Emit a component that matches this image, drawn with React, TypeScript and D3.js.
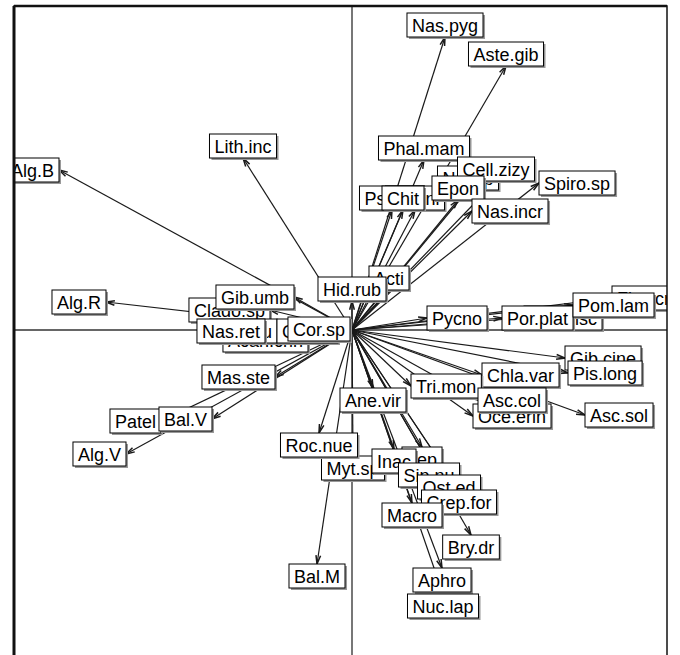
import React, { useEffect, useRef } from 'react';
import * as d3 from 'd3';

const width = 680;
const height = 655;

// species labels, in the order they are drawn (later ones sit on top)
const species = [
  'Nas.pyg', 'Aste.gib', 'Phal.mam', 'Psa.sp', 'Lep.ni', 'Chit', 'Nei.sp', 'Cell.zizy', 'Epon',
  'Spiro.sp', 'Nas.incr', 'Acti', 'Hid.rub', 'Lith.inc', 'Alg.B', 'Alg.R', 'Clado.sp', 'Gib.umb',
  'Acan.crin', 'Halo.tu', 'Cal.sp', 'Nas.ret', 'Cor.sp', 'Mas.ste', 'Patel', 'Bal.V', 'Alg.V',
  'Myt.sp', 'Roc.nue', 'Bal.M', 'Ane.vir', 'Lep', 'Inac', 'Sip.nu', 'Ost.ed', 'Crep.for', 'Macro',
  'Bry.dr', 'Aphro', 'Nuc.lap', 'Pycno', 'Bus.disc', 'Por.plat', 'Fiss.cr', 'Pom.lam', 'Gib.cine',
  'Pis.long', 'Chla.var', 'Tri.mon', 'Oce.erin', 'Asc.col', 'Asc.sol',
];

// loadings on axis 1
const axis1 = [
  0.93, 1.54, 0.72, 0.40, 0.63, 0.51, 1.16, 1.44, 1.06,
  1.87, 1.20, 0.37, 0.0, -1.09, -2.93, -2.46, -0.82, -0.58,
  -0.44, -0.75, -0.14, -0.87, -0.02, -0.77, -1.91, -1.40, -2.26,
  0.01, -0.33, -0.35, 0.21, 0.70, 0.42, 0.77, 0.97, 1.07, 0.60,
  1.19, 0.90, 0.91, 0.75, 1.72, 1.50, 2.60, 2.21, 2.13,
  2.16, 1.30, 0.59, 1.21, 1.26, 2.33,
];

// loadings on axis 2
const axis2 = [
  2.93, 2.64, 1.70, 1.20, 1.20, 1.20, 1.40, 1.49, 1.30,
  1.47, 1.19, 0.40, 0.29, 1.72, 1.60, 0.28, 0.20, 0.33,
  -0.10, -0.01, -0.01, -0.01, 0.01, -0.47, -0.91, -0.89, -1.24,
  -1.26, -1.03, -2.34, -0.58, -1.17, -1.19, -1.33, -1.45, -1.60, -1.73,
  -2.05, -2.38, -2.64, 0.12, 0.12, 0.12, 0.32, 0.25, -0.28,
  -0.43, -0.45, -0.56, -0.86, -0.70, -0.85,
];

const App = () => {
  const ref = useRef<SVGSVGElement>(null);

  useEffect(() => {
    const svg = d3.select(ref.current);
    svg.selectAll('*').remove();

    const x = d3.scaleLinear().domain([-3.38, 3.15]).range([14, 667]);
    const y = d3.scaleLinear().domain([3.24, -3.5]).range([6, 680]);
    const ox = x(0);
    const oy = y(0);

    svg.append('rect').attr('width', width).attr('height', height).attr('fill', '#fff');

    svg.append('clipPath').attr('id', 'plotclip')
      .append('rect')
      .attr('x', x(-3.38)).attr('y', y(3.24))
      .attr('width', x(3.15) - x(-3.38)).attr('height', y(-3.5) - y(3.24));

    const g = svg.append('g').attr('clip-path', 'url(#plotclip)');

    // axes through the origin
    g.append('line')
      .attr('x1', x(-3.38)).attr('x2', x(3.15)).attr('y1', oy).attr('y2', oy)
      .attr('stroke', '#333').attr('stroke-width', 1.5);
    g.append('line')
      .attr('x1', ox).attr('x2', ox).attr('y1', y(3.24)).attr('y2', y(-3.5))
      .attr('stroke', '#777').attr('stroke-width', 2);

    const pts = species.map((name, i) => ({ name, px: x(axis1[i]), py: y(axis2[i]), a: axis1[i], b: axis2[i] }));

    // arrows
    const headLen = 9;
    const headAng = (15 * Math.PI) / 180;
    pts.forEach((p) => {
      g.append('line')
        .attr('x1', ox).attr('y1', oy).attr('x2', p.px).attr('y2', p.py)
        .attr('stroke', '#1a1a1a').attr('stroke-width', 1.2);
      const ang = Math.atan2(p.py - oy, p.px - ox);
      const path = d3.path();
      path.moveTo(p.px - headLen * Math.cos(ang - headAng), p.py - headLen * Math.sin(ang - headAng));
      path.lineTo(p.px, p.py);
      path.lineTo(p.px - headLen * Math.cos(ang + headAng), p.py - headLen * Math.sin(ang + headAng));
      g.append('path').attr('d', path.toString())
        .attr('fill', 'none').attr('stroke', '#1a1a1a').attr('stroke-width', 1.5);
    });

    // labels in boxes, placed outward from the arrow tip
    const boxH = 24;
    const pad = 5;
    pts.forEach((p) => {
      const lab = g.append('g');
      const shadow = lab.append('rect').attr('fill', '#999');
      const box = lab.append('rect').attr('fill', '#fff').attr('stroke', '#000').attr('stroke-width', 1);
      const txt = lab.append('text')
        .attr('font-family', "'Liberation Sans', Arial, sans-serif")
        .attr('font-size', 18)
        .attr('text-anchor', 'middle')
        .attr('dominant-baseline', 'central')
        .text(p.name);
      const w = (txt.node() as SVGTextElement).getComputedTextLength() + 2 * pad;
      let cx = p.px;
      let cy = p.py;
      if (p.a > p.b && p.a > -p.b) cx = p.px + w / 2;
      else if (p.a > p.b && p.a <= -p.b) cy = p.py + boxH / 2;
      else if (p.a <= p.b && p.a <= -p.b) cx = p.px - w / 2;
      else cy = p.py - boxH / 2;
      shadow.attr('x', cx - w / 2 + 2).attr('y', cy - boxH / 2 + 2).attr('width', w).attr('height', boxH);
      box.attr('x', cx - w / 2).attr('y', cy - boxH / 2).attr('width', w).attr('height', boxH);
      txt.attr('x', cx).attr('y', cy + 1);
    });

    // frame
    svg.append('rect')
      .attr('x', x(-3.38)).attr('y', y(3.24))
      .attr('width', x(3.15) - x(-3.38)).attr('height', y(-3.5) - y(3.24))
      .attr('fill', 'none').attr('stroke', '#111').attr('stroke-width', 1.5);
    svg.append('line')
      .attr('x1', x(-3.38)).attr('x2', x(-3.38)).attr('y1', y(3.24)).attr('y2', y(-3.5))
      .attr('stroke', '#111').attr('stroke-width', 3);
    svg.append('line')
      .attr('x1', x(-3.38)).attr('x2', x(3.15)).attr('y1', y(3.24)).attr('y2', y(3.24))
      .attr('stroke', '#111').attr('stroke-width', 2.5);
  }, []);

  return (
    <svg
      ref={ref}
      width={width}
      height={height}
      style={{ position: 'absolute', left: 0, top: 0, display: 'block' }}
    />
  );
};

export default App;
